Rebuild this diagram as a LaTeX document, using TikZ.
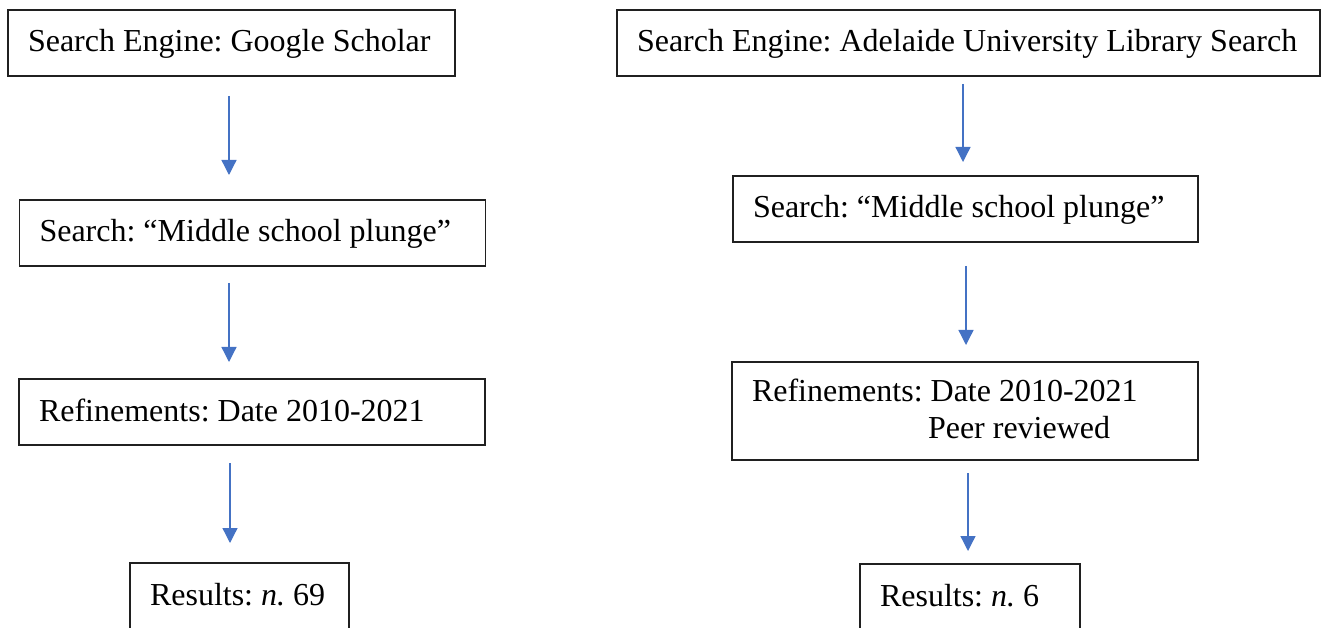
\documentclass[tikz,border=0pt]{standalone}
\usepackage{fontspec}
\setmainfont{Liberation Serif}
\usetikzlibrary{arrows.meta}
\definecolor{arrblue}{HTML}{4472C4}
\definecolor{boxline}{HTML}{202020}
\tikzset{
  box/.style={draw=boxline, line width=1.2pt, rectangle, inner xsep=20pt, inner ysep=0pt,
    minimum height=66pt, align=flush left, text height=24pt, text depth=6pt,
    font=\fontsize{32}{36}\selectfont\frenchspacing,
    execute at begin node={\spaceskip=0pt\relax\xspaceskip=0pt\relax\frenchspacing}},
  arr/.style={draw=arrblue, line width=1.3pt, -{Triangle[width=15pt,length=15pt]}}
}
\begin{document}
\begin{tikzpicture}[x=1pt,y=-1pt]
\useasboundingbox (0,0) rectangle (1326,628);
\clip (0,0) rectangle (1326,628);
% left column
\node[box, text width=407pt] (L1) at (231.5,43) {Search Engine: Google Scholar};
\node[box, text width=426pt] (L2) at (252.5,233) {Search: “Middle school plunge”};
\node[box, text width=426pt] (L3) at (252,412) {Refinements: Date 2010-2021};
\node[box, text width=179pt] (L4) at (239.5,596) {Results: \textit{n.} 69};
% right column
\node[box, text width=663pt] (R1) at (968.5,43) {Search Engine: Adelaide University Library Search};
\node[box, text width=425pt] (R2) at (965.5,209) {Search: “Middle school plunge”};
\node[box, text width=426pt, minimum height=98pt, text depth=42pt] (R3) at (965,411) {Refinements: Date 2010-2021\\\hspace*{176pt}Peer reviewed};
\node[box, text width=180pt] (R4) at (970,597) {Results: \textit{n.} 6};
% arrow end points
\coordinate (a1s) at (229,96);  \coordinate (a1e) at (229,175);
\coordinate (a2s) at (229,283); \coordinate (a2e) at (229,362);
\coordinate (a3s) at (230,463); \coordinate (a3e) at (230,543);
\coordinate (b1s) at (963,84);  \coordinate (b1e) at (963,162);
\coordinate (b2s) at (966,266); \coordinate (b2e) at (966,345);
\coordinate (b3s) at (968,473); \coordinate (b3e) at (968,551);
\draw[arr] (a1s) -- (a1e);
\draw[arr] (a2s) -- (a2e);
\draw[arr] (a3s) -- (a3e);
\draw[arr] (b1s) -- (b1e);
\draw[arr] (b2s) -- (b2e);
\draw[arr] (b3s) -- (b3e);
\end{tikzpicture}
\end{document}
